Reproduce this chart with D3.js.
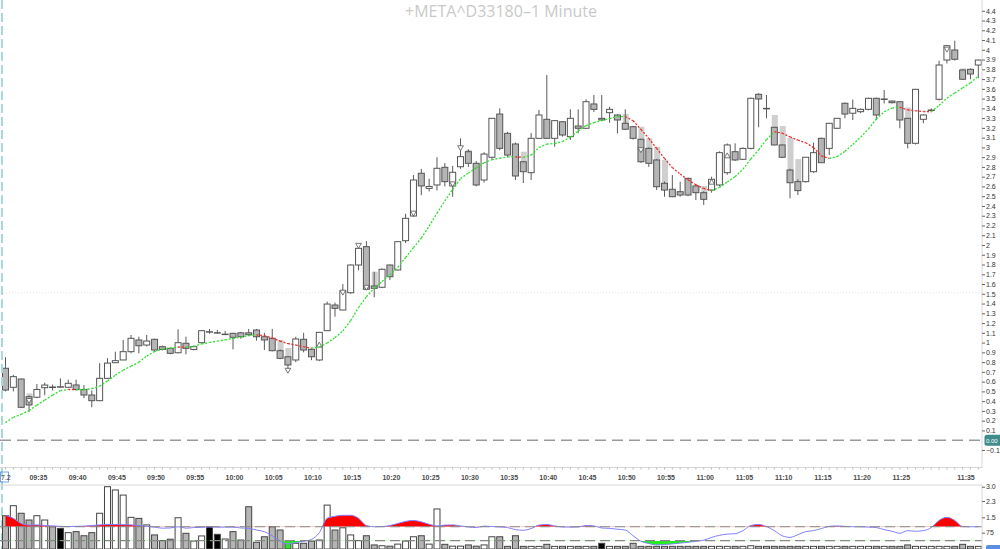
<!DOCTYPE html>
<html><head><meta charset="utf-8">
<script src="https://cdn.jsdelivr.net/npm/d3@7"></script>
<style>body{margin:0;background:#fff}svg{display:block}</style>
</head><body>
<script>
const title = "+META^D33180\u20131 Minute";
const firstBarTime = "09:31";
const opens  = [0.737,0.542,0.627,0.446,0.44,0.538,0.545,0.545,0.542,0.566,0.52,0.463,0.405,0.634,0.794,0.822,0.907,1.027,0.975,1.034,0.958,0.941,0.896,0.993,0.93,0.999,1.11,1.10,1.085,1.095,1.10,1.10,1.129,1.06,1.044,0.917,0.855,0.822,1.034,0.931,0.822,1.122,1.385,1.334,1.511,1.795,1.983,1.58,1.567,1.795,1.744,2.044,2.297,2.735,2.58,2.615,2.796,2.605,2.802,2.956,2.837,2.666,2.899,3.342,3.144,3.035,2.853,2.741,3.093,3.288,3.093,3.263,3.110,3.219,3.196,3.445,3.298,3.356,3.332,3.247,3.212,3.083,2.99,2.871,2.632,2.571,2.546,2.683,2.605,2.536,2.563,2.615,2.741,2.956,2.878,2.99,3.544,3.40,3.206,3.025,2.768,2.649,2.649,2.751,3.093,2.99,3.196,3.452,3.35,3.366,3.39,3.503,3.494,3.475,3.468,3.298,3.042,3.288,3.381,3.493,3.895,3.998,3.793,3.80,3.844];
const highs  = [0.85,0.67,0.63,0.46,0.576,0.59,0.57,0.634,0.62,0.62,0.566,0.51,0.79,0.84,0.907,1.027,1.078,1.06,1.078,1.04,0.97,0.95,1.136,1.06,0.97,1.13,1.14,1.13,1.12,1.10,1.11,1.14,1.14,1.10,1.14,0.93,0.86,1.06,1.10,0.94,1.11,1.42,1.41,1.60,1.80,2.00,2.04,1.726,1.76,1.80,2.04,2.32,2.717,2.78,2.68,2.90,2.84,2.81,3.093,2.98,2.86,2.95,3.30,3.40,3.16,3.05,2.86,3.147,3.383,3.742,3.28,3.27,3.39,3.39,3.493,3.537,3.537,3.417,3.34,3.39,3.22,3.09,3.0,2.88,2.65,2.717,2.649,2.69,2.62,2.55,2.70,2.96,3.04,3.042,3.0,3.51,3.555,3.537,3.21,3.03,2.78,2.673,2.90,3.048,3.10,3.25,3.30,3.46,3.49,3.40,3.51,3.51,3.588,3.48,3.47,3.30,3.60,3.34,3.40,3.888,4.05,4.093,3.80,3.81,3.90];
const lows   = [0.50,0.50,0.33,0.29,0.43,0.46,0.51,0.54,0.54,0.51,0.43,0.337,0.40,0.63,0.79,0.82,0.89,0.89,0.96,0.91,0.92,0.88,0.89,0.88,0.92,0.99,1.09,1.09,1.08,0.93,1.04,1.07,1.02,0.924,0.91,0.83,0.70,0.80,0.90,0.82,0.81,1.12,1.265,1.33,1.50,1.74,1.54,1.464,1.56,1.64,1.74,2.02,2.29,2.51,2.55,2.56,2.60,2.495,2.78,2.80,2.60,2.64,2.88,2.97,2.90,2.666,2.635,2.666,3.09,3.09,3.007,3.11,3.076,3.144,3.19,3.363,3.27,3.253,3.144,3.18,3.08,2.84,2.80,2.563,2.495,2.49,2.495,2.50,2.461,2.41,2.536,2.60,2.72,2.86,2.87,2.98,3.206,3.298,3.02,2.89,2.478,2.512,2.64,2.74,2.84,2.922,3.19,3.298,3.28,3.35,3.38,3.28,3.45,3.45,3.196,2.99,3.03,3.247,3.37,3.48,3.86,3.89,3.69,3.698,3.71];
const closes = [0.514,0.651,0.337,0.361,0.52,0.565,0.54,0.548,0.583,0.52,0.463,0.405,0.634,0.79,0.815,0.907,1.044,0.968,1.016,0.924,0.93,0.89,0.999,0.941,0.958,1.122,1.112,1.102,1.087,1.054,1.06,1.08,1.06,1.027,0.917,0.839,0.771,1.037,0.924,0.855,1.105,1.395,1.351,1.529,1.795,1.966,1.546,1.556,1.751,1.675,2.034,2.273,2.666,2.605,2.60,2.786,2.649,2.745,2.905,2.837,2.615,2.932,3.298,2.99,2.922,2.707,2.751,3.093,3.332,3.093,3.274,3.127,3.298,3.196,3.468,3.390,3.281,3.390,3.281,3.186,3.093,2.853,2.837,2.597,2.563,2.495,2.512,2.512,2.536,2.468,2.673,2.946,3.025,2.871,2.99,3.503,3.496,3.397,3.025,2.899,2.638,2.557,2.899,2.946,2.843,3.247,3.298,3.342,3.40,3.39,3.503,3.332,3.496,3.458,3.281,3.042,3.595,3.332,3.383,3.844,4.042,3.903,3.698,3.752,3.895];
const maValues = [0.18,0.235,0.264,0.304,0.359,0.412,0.462,0.508,0.520,0.517,0.517,0.528,0.554,0.607,0.666,0.718,0.759,0.798,0.862,0.909,0.934,0.942,0.955,0.952,0.961,0.986,1.002,1.015,1.028,1.042,1.056,1.071,1.080,1.071,1.046,1.016,0.99,0.975,0.958,0.942,0.955,0.995,1.052,1.12,1.226,1.36,1.47,1.56,1.625,1.692,1.772,1.872,1.973,2.071,2.193,2.325,2.451,2.57,2.68,2.737,2.79,2.842,2.874,2.89,2.902,2.903,2.898,2.92,2.999,3.034,3.04,3.06,3.105,3.168,3.224,3.254,3.275,3.295,3.315,3.316,3.273,3.184,3.092,2.99,2.888,2.793,2.727,2.667,2.617,2.579,2.557,2.589,2.646,2.70,2.776,2.881,2.975,3.08,3.161,3.146,3.108,3.074,3.048,2.998,2.912,2.887,2.905,2.96,3.03,3.105,3.19,3.29,3.365,3.402,3.41,3.385,3.375,3.368,3.364,3.43,3.505,3.557,3.61,3.66,3.73];
// ghost bodies: [bar index, top value, bottom value]
const ghostBars = [[3,0.48,0.446],[35,1.027,0.917],[36,0.945,0.855],[47,1.726,1.573],[59,2.975,2.956],[66,2.956,2.853],[79,3.342,3.247],[81,3.212,3.083],[82,3.093,2.99],[83,3.007,2.871],[84,2.871,2.632],[89,2.605,2.536],[98,3.332,3.206],[99,3.219,3.025],[100,3.096,2.768],[101,2.88,2.649],[115,3.41,3.298],[122,3.81,3.793]];
// signal markers: [bar index, value, direction]
const markers = [[3,0.41,"down"],[36,0.72,"down"],[40,0.97,"up"],[43,1.52,"down"],[45,2.0,"down"],[46,1.57,"down"],[52,2.33,"down"],[57,2.63,"down"],[58,3.0,"down"],[81,2.98,"down"],[90,2.64,"up"],[92,2.91,"up"],[120,4.01,"down"]];
const volumes = [1.58,2.07,1.70,1.37,1.58,1.37,1.04,0.96,0.75,0.80,0.60,0.75,1.70,3.00,2.84,2.59,1.50,1.45,1.13,0.64,0.36,0.43,1.48,0.72,0.34,0.59,1.03,0.67,0.44,0.80,0.39,2.02,0.28,0.55,1.04,0.88,0.34,0.23,0.23,0.34,0.39,2.10,0.88,0.99,0.64,0.36,0.60,0.15,0.11,0.09,0.19,0.34,0.55,0.60,0.19,1.91,0.18,0.09,0.09,0.15,0.09,0.15,0.55,0.55,0.08,0.60,0.08,0.08,0.08,0.18,0.08,0.08,0.08,0.08,0.08,0.08,0.23,0.08,0.08,0.08,0.23,0.08,0.08,0.08,0.08,0.08,0.08,0.08,0.08,0.08,0.08,0.08,0.08,0.08,0.08,0.11,0.08,0.08,0.08,0.08,0.08,0.08,0.08,0.08,0.08,0.08,0.08,0.08,0.08,0.08,0.08,0.08,0.08,0.08,0.08,0.15,0.08,0.08,0.08,0.08,0.08,0.08,0.18,0.08,0.08];
const blackVolumeBars = [7,26,27,76];
const greenVolumeBars = [36];
const ratioLine = [1.6,1.45,1.2,1.12,1.13,1.1,1.08,1.06,1.05,1.06,1.07,1.1,1.13,1.15,1.15,1.14,1.13,1.1,1.06,1.02,0.97,0.98,1.04,0.97,1.0,1.01,1.03,1.02,1.02,1.02,0.98,0.96,0.88,0.8,0.6,0.35,0.2,0.26,0.33,0.42,0.75,1.45,1.55,1.6,1.6,1.45,1.1,1.04,1.05,1.1,1.2,1.3,1.35,1.28,1.16,1.08,1.12,1.13,1.08,1.03,1.0,1.07,1.05,1.03,1.0,0.9,0.87,0.95,1.12,1.15,1.08,1.03,1.02,1.03,1.1,1.08,0.98,0.96,0.92,0.88,0.6,0.33,0.22,0.15,0.17,0.2,0.24,0.28,0.33,0.38,0.52,0.62,0.68,0.7,0.85,1.1,1.15,1.05,0.85,0.6,0.52,0.65,0.8,0.85,0.95,1.06,1.08,1.06,1.04,1.04,1.02,1.0,0.9,0.82,0.72,0.85,0.82,0.85,1.0,1.35,1.5,1.35,1.05,1.04,1.04];
const ratioUpper = 1.04, ratioLower = 0.36;
const priceTicks = d3.range(-1, 45).map(k => k / 10);
const timeLabels = ["09:35","09:40","09:45","09:50","09:55","10:00","10:05","10:10","10:15","10:20","10:25","10:30","10:35","10:40","10:45","10:50","10:55","11:00","11:05","11:10","11:15","11:20","11:25","11:35"];
const lowerTicks = [3.0, 2.3, 1.5, 0.75];
const lowerTickLabels = ["3.0", "2.3", "1.5", "75"];

const W = 1000, H = 549;
const svg = d3.select("body").append("svg").attr("width", W).attr("height", H)
  .style("font-family", "'Liberation Sans', Arial, sans-serif");

const axisX = 982;
const n = closes.length;
const x = d3.scaleLinear().domain([0, n - 1]).range([5.5, 978.3]);
const y = d3.scaleLinear().domain([0, 4.4]).range([440.2, 10.76]);
const yv = d3.scaleLinear().domain([0, 3]).range([548, 486.7]);
const toMin = s => { const [h, m] = s.split(":").map(Number); return h * 60 + m; };
const t0 = toMin(firstBarTime);

// title
svg.append("text").attr("x", 501).attr("y", 17).attr("text-anchor", "middle")
  .attr("fill", "#c9c9c9").attr("font-size", 16).attr("font-family", "'Open Sans', sans-serif").text(title);

// level lines
svg.append("line").attr("x1", 0).attr("x2", axisX).attr("y1", y(1.51)).attr("y2", y(1.51))
  .attr("stroke", "#e2e2e2").attr("stroke-dasharray", "1,2");
svg.append("line").attr("x1", 0).attr("x2", axisX).attr("y1", y(0)).attr("y2", y(0))
  .attr("stroke", "#9a9a9a").attr("stroke-width", 1.4).attr("stroke-dasharray", "11,6");

// ghost bodies
const bw = 6;
svg.append("g").selectAll("rect").data(ghostBars).join("rect")
  .attr("x", d => x(d[0]) - bw / 2 + 0.5).attr("width", bw)
  .attr("y", d => y(d[1])).attr("height", d => Math.max(1, y(d[2]) - y(d[1])))
  .attr("fill", "#cfcfcf");

// candles
const candles = d3.range(n).map(i => ({i, o: opens[i], h: highs[i], l: lows[i], c: closes[i]}));
const cg = svg.append("g");
cg.selectAll("line").data(candles).join("line")
  .attr("x1", d => x(d.i)).attr("x2", d => x(d.i))
  .attr("y1", d => y(d.h)).attr("y2", d => y(d.l))
  .attr("stroke", "#5a5a5a").attr("stroke-width", 1);
cg.selectAll("rect").data(candles).join("rect")
  .attr("x", d => x(d.i) - bw / 2).attr("width", bw)
  .attr("y", d => y(Math.max(d.o, d.c)))
  .attr("height", d => Math.max(0.5, Math.abs(y(d.o) - y(d.c))))
  .attr("fill", d => d.c >= d.o ? "#ffffff" : "#b5b5b5")
  .attr("stroke", "#555").attr("stroke-width", 1);

// markers
const tri = d3.symbol().type(d3.symbolTriangle).size(14);
svg.append("g").selectAll("path").data(markers).join("path")
  .attr("d", tri)
  .attr("transform", d => `translate(${x(d[0])},${y(d[1])}) rotate(${d[2] === "down" ? 180 : 0})`)
  .attr("fill", "#fff").attr("stroke", "#555").attr("stroke-width", 0.8);

// moving average (green rising, red falling)
const mg = svg.append("g");
for (let i = 1; i < n; i++) {
  mg.append("line").attr("x1", x(i - 1)).attr("y1", y(maValues[i - 1]))
    .attr("x2", x(i)).attr("y2", y(maValues[i]))
    .attr("stroke", maValues[i] >= maValues[i - 1] ? "#2ee02e" : "#ee2a2a")
    .attr("stroke-width", 1.3).attr("stroke-dasharray", "2,1.6");
}

// left teal dashed line
svg.append("line").attr("x1", 2).attr("x2", 2).attr("y1", 0).attr("y2", H)
  .attr("stroke", "#a9d9d9").attr("stroke-width", 2).attr("stroke-dasharray", "9,4");

// price axis
svg.append("line").attr("x1", axisX).attr("x2", axisX).attr("y1", 0).attr("y2", 468).attr("stroke", "#d8d8d8");
const pa = svg.append("g").attr("transform", `translate(${axisX},0)`)
  .call(d3.axisRight(y).tickValues(priceTicks.filter(v => Math.abs(v) > 1e-9)).tickSize(3).tickPadding(1)
    .tickFormat(v => Number.isInteger(Math.round(v * 10) / 10) ? String(Math.round(v)) : d3.format(".1f")(v)));
pa.select(".domain").remove();
pa.selectAll("line").attr("stroke", "#666");
pa.selectAll("text").attr("font-size", 7).attr("fill", "#333");
// zero value box
svg.append("rect").attr("x", 984.5).attr("y", y(0) - 5.5).attr("width", 20).attr("height", 11).attr("rx", 2.5).attr("fill", "#3f8c8a");
svg.append("text").attr("x", 986).attr("y", y(0) + 2.5).attr("font-size", 6).attr("fill", "#fff").text("0.00");

// time axis
svg.append("line").attr("x1", 0).attr("x2", axisX).attr("y1", 467.5).attr("y2", 467.5).attr("stroke", "#d8d8d8");
svg.append("line").attr("x1", 0).attr("x2", axisX).attr("y1", 485).attr("y2", 485).attr("stroke", "#d8d8d8");
const tg = svg.append("g");
tg.selectAll("line.minor").data(d3.range(n)).join("line").attr("class", "minor")
  .attr("x1", d => x(d)).attr("x2", d => x(d)).attr("y1", 467.5).attr("y2", 469.5).attr("stroke", "#bbb");
tg.selectAll("text").data(timeLabels).join("text")
  .attr("x", d => Math.min(x(toMin(d) - t0) + 1.5, 966))
  .attr("y", 480).attr("text-anchor", "middle").attr("font-size", 7).attr("font-weight", "bold").attr("fill", "#4a4a4a")
  .text(d => d);
svg.append("rect").attr("x", 0.5).attr("y", 472).attr("width", 8).attr("height", 10).attr("fill", "none").attr("stroke", "#5b8de0").attr("stroke-width", 0.8);
svg.append("text").attr("x", 1).attr("y", 480).attr("font-size", 7).attr("fill", "#333").text("7.2");

// lower panel
const lp = svg.append("g");
lp.selectAll("rect").data(d3.range(n)).join("rect")
  .attr("x", i => x(i) - 3).attr("width", 6)
  .attr("y", i => yv(volumes[i])).attr("height", i => 549 - yv(volumes[i]))
  .attr("fill", i => greenVolumeBars.includes(i) ? "#2ee02e" : blackVolumeBars.includes(i) ? "#000" : (closes[i] >= opens[i] ? "#fff" : "#b5b5b5"))
  .attr("stroke", "#444").attr("stroke-width", 1);

const defs = svg.append("defs");
defs.append("clipPath").attr("id", "above").append("rect").attr("x", 0).attr("y", 480).attr("width", axisX).attr("height", yv(ratioUpper) - 480);
defs.append("clipPath").attr("id", "below").append("rect").attr("x", 0).attr("y", yv(ratioLower)).attr("width", axisX).attr("height", 20);
const idx = d3.range(n);
lp.append("path").datum(idx).attr("clip-path", "url(#above)")
  .attr("d", d3.area().x(i => x(i)).y0(yv(ratioUpper)).y1(i => yv(ratioLine[i])).curve(d3.curveMonotoneX))
  .attr("fill", "#ff0000");
lp.append("path").datum(idx).attr("clip-path", "url(#below)")
  .attr("d", d3.area().x(i => x(i)).y0(yv(ratioLower)).y1(i => yv(ratioLine[i])).curve(d3.curveMonotoneX))
  .attr("fill", "#22ee22");
lp.append("path").datum(idx)
  .attr("d", d3.line().x(i => x(i)).y(i => yv(ratioLine[i])).curve(d3.curveMonotoneX))
  .attr("fill", "none").attr("stroke", "#8080ff").attr("stroke-width", 1);
[ratioUpper, ratioLower].forEach(v => lp.append("line").attr("x1", 0).attr("x2", axisX).attr("y1", yv(v)).attr("y2", yv(v))
  .attr("stroke", "#888").attr("stroke-width", 1.2).attr("stroke-dasharray", "10,5"));

svg.append("line").attr("x1", axisX).attr("x2", axisX).attr("y1", 485).attr("y2", H).attr("stroke", "#d8d8d8");
const la = svg.append("g").attr("transform", `translate(${axisX},0)`)
  .call(d3.axisRight(yv).tickValues(lowerTicks).tickSize(3).tickPadding(1).tickFormat((v, k) => lowerTickLabels[k]));
la.select(".domain").remove();
la.selectAll("line").attr("stroke", "#666");
la.selectAll("text").attr("font-size", 7).attr("fill", "#333");
svg.append("rect").attr("x", 986).attr("y", 545).attr("width", 16).attr("height", 8).attr("rx", 2).attr("fill", "#5b8de0");
</script>
</body></html>
